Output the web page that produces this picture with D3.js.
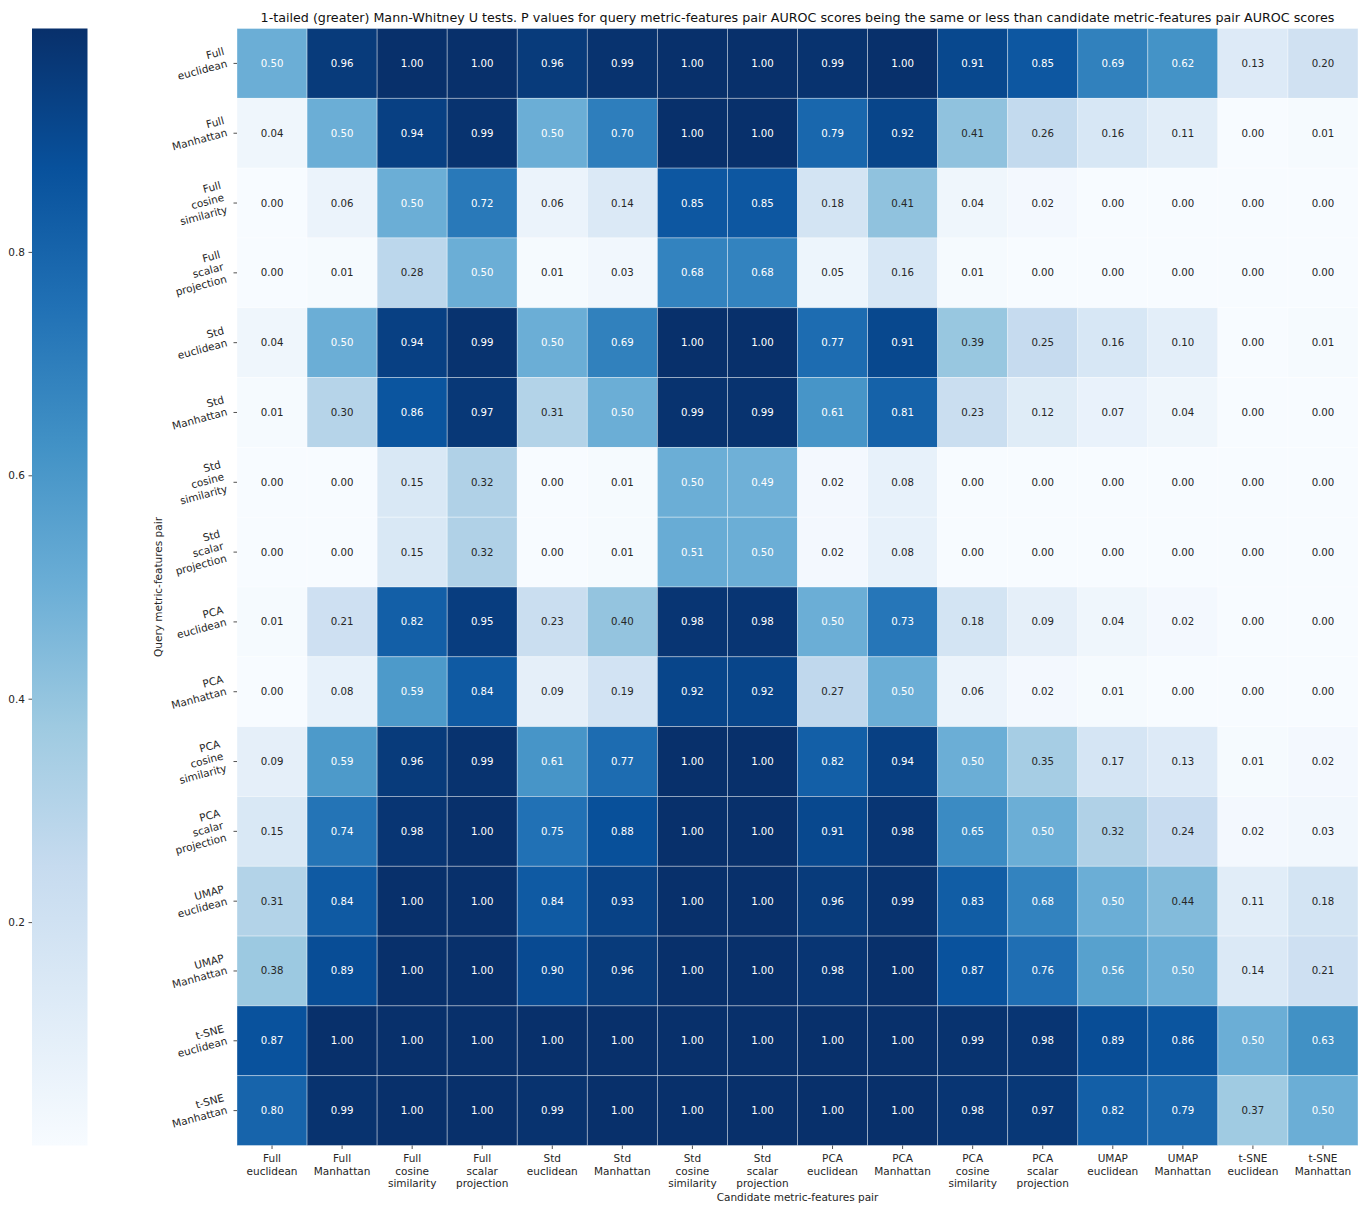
<!DOCTYPE html>
<html><head><meta charset="utf-8">
<script src="https://cdn.jsdelivr.net/npm/d3@7"></script>
<style>body{margin:0;background:#fff}svg{display:block;font-family:"DejaVu Sans",sans-serif}</style>
</head><body><svg id="chart" width="1370" height="1215"></svg>
<script>
const labels = ["Full\neuclidean","Full\nManhattan","Full\ncosine\nsimilarity","Full\nscalar\nprojection",
"Std\neuclidean","Std\nManhattan","Std\ncosine\nsimilarity","Std\nscalar\nprojection",
"PCA\neuclidean","PCA\nManhattan","PCA\ncosine\nsimilarity","PCA\nscalar\nprojection",
"UMAP\neuclidean","UMAP\nManhattan","t-SNE\neuclidean","t-SNE\nManhattan"];
const values = [
[0.50,0.96,1.00,1.00,0.96,0.99,1.00,1.00,0.99,1.00,0.91,0.85,0.69,0.62,0.13,0.20],
[0.04,0.50,0.94,0.99,0.50,0.70,1.00,1.00,0.79,0.92,0.41,0.26,0.16,0.11,0.00,0.01],
[0.00,0.06,0.50,0.72,0.06,0.14,0.85,0.85,0.18,0.41,0.04,0.02,0.00,0.00,0.00,0.00],
[0.00,0.01,0.28,0.50,0.01,0.03,0.68,0.68,0.05,0.16,0.01,0.00,0.00,0.00,0.00,0.00],
[0.04,0.50,0.94,0.99,0.50,0.69,1.00,1.00,0.77,0.91,0.39,0.25,0.16,0.10,0.00,0.01],
[0.01,0.30,0.86,0.97,0.31,0.50,0.99,0.99,0.61,0.81,0.23,0.12,0.07,0.04,0.00,0.00],
[0.00,0.00,0.15,0.32,0.00,0.01,0.50,0.49,0.02,0.08,0.00,0.00,0.00,0.00,0.00,0.00],
[0.00,0.00,0.15,0.32,0.00,0.01,0.51,0.50,0.02,0.08,0.00,0.00,0.00,0.00,0.00,0.00],
[0.01,0.21,0.82,0.95,0.23,0.40,0.98,0.98,0.50,0.73,0.18,0.09,0.04,0.02,0.00,0.00],
[0.00,0.08,0.59,0.84,0.09,0.19,0.92,0.92,0.27,0.50,0.06,0.02,0.01,0.00,0.00,0.00],
[0.09,0.59,0.96,0.99,0.61,0.77,1.00,1.00,0.82,0.94,0.50,0.35,0.17,0.13,0.01,0.02],
[0.15,0.74,0.98,1.00,0.75,0.88,1.00,1.00,0.91,0.98,0.65,0.50,0.32,0.24,0.02,0.03],
[0.31,0.84,1.00,1.00,0.84,0.93,1.00,1.00,0.96,0.99,0.83,0.68,0.50,0.44,0.11,0.18],
[0.38,0.89,1.00,1.00,0.90,0.96,1.00,1.00,0.98,1.00,0.87,0.76,0.56,0.50,0.14,0.21],
[0.87,1.00,1.00,1.00,1.00,1.00,1.00,1.00,1.00,1.00,0.99,0.98,0.89,0.86,0.50,0.63],
[0.80,0.99,1.00,1.00,0.99,1.00,1.00,1.00,1.00,1.00,0.98,0.97,0.82,0.79,0.37,0.50]];
const colorbarTicks = [0.2,0.4,0.6,0.8];
const blues = ["#f7fbff","#deebf7","#c6dbef","#9ecae1","#6baed6","#4292c6","#2171b5","#08519c","#08306b"];
const titleText = "1-tailed (greater) Mann-Whitney U tests. P values for query metric-features pair AUROC scores being the same or less than candidate metric-features pair AUROC scores";
const xTitle = "Candidate metric-features pair";
const yTitle = "Query metric-features pair";

const svg = d3.select("#chart");
const L = 237, R = 1358, T = 28.5, B = 1145.5;
const idx = d3.range(labels.length);
const x = d3.scaleBand().domain(idx).range([L, R]);
const y = d3.scaleBand().domain(idx).range([T, B]);
const color = d3.scaleLinear().domain(d3.range(9).map(i => i/8)).range(blues).interpolate(d3.interpolateRgb).clamp(true);

function lum(c){
  const r = d3.rgb(c);
  const f = v => { v/=255; return v <= 0.03928 ? v/12.92 : Math.pow((v+0.055)/1.055, 2.4); };
  return 0.2126*f(r.r)+0.7152*f(r.g)+0.0722*f(r.b);
}

const cells = [];
values.forEach((row,i)=>row.forEach((v,j)=>cells.push({i,j,v})));
const gC = svg.append("g");
gC.selectAll("rect").data(cells).join("rect")
  .attr("x", d=>x(d.j)).attr("y", d=>y(d.i))
  .attr("width", x.bandwidth()).attr("height", y.bandwidth())
  .attr("fill", d=>color(d.v))
  .attr("stroke", "rgba(255,255,255,0.45)").attr("stroke-width", 0.8);
gC.selectAll("text").data(cells).join("text")
  .attr("x", d=>x(d.j)+x.bandwidth()/2).attr("y", d=>y(d.i)+y.bandwidth()/2)
  .attr("text-anchor","middle").attr("dominant-baseline","central")
  .attr("font-size", 10.2)
  .attr("fill", d=> lum(color(d.v)) > 0.408 ? "#262626" : "#ffffff")
  .text(d=>d.v.toFixed(2));

// x ticks
const gx = svg.append("g");
idx.forEach(j=>{
  const cx = x(j)+x.bandwidth()/2;
  gx.append("line").attr("x1",cx).attr("x2",cx).attr("y1",B).attr("y2",B+3.5).attr("stroke","#262626").attr("stroke-width",0.8);
  const t = gx.append("text").attr("x",cx).attr("y",B+16.5).attr("text-anchor","middle").attr("font-size",10.5).attr("fill","#262626");
  labels[j].split("\n").forEach((s,k)=>t.append("tspan").attr("x",cx).attr("dy",k?12.6:0).text(s));
});
// y ticks
const gy = svg.append("g");
idx.forEach(i=>{
  const cy = y(i)+y.bandwidth()/2;
  gy.append("line").attr("x1",L-3.5).attr("x2",L).attr("y1",cy).attr("y2",cy).attr("stroke","#262626").attr("stroke-width",0.8);
  const outer = gy.append("g");
  const inner = outer.append("g").attr("transform","rotate(-15)");
  const lines = labels[i].split("\n");
  const t = inner.append("text").attr("text-anchor","end").attr("font-size",10.5).attr("fill","#262626");
  lines.forEach((s,k)=>t.append("tspan").attr("x",0).attr("dy",k?12.6:0).text(s));
  const bb = outer.node().getBBox();
  outer.attr("transform",`translate(${L-8.5-(bb.x+bb.width)},${cy-(bb.y+bb.height/2)})`);
});

// titles
svg.append("text").attr("x",(L+R)/2).attr("y",22).attr("text-anchor","middle").attr("font-size",12.7).attr("fill","#111").text(titleText);
svg.append("text").attr("x",(L+R)/2).attr("y",1201).attr("text-anchor","middle").attr("font-size",10.5).attr("fill","#262626").text(xTitle);
svg.append("text").attr("transform",`translate(162,${(T+B)/2}) rotate(-90)`).attr("text-anchor","middle").attr("font-size",10.5).attr("fill","#262626").text(yTitle);

// colorbar
const cbL = 32, cbR = 87.5;
const cbScale = d3.scaleLinear().domain([0,1]).range([B,T]);
const defs = svg.append("defs");
const grad = defs.append("linearGradient").attr("id","cbg").attr("x1",0).attr("y1",1).attr("x2",0).attr("y2",0);
d3.range(0,1.0001,0.125).forEach(v=>grad.append("stop").attr("offset",v).attr("stop-color",color(v)));
svg.append("rect").attr("x",cbL).attr("y",T).attr("width",cbR-cbL).attr("height",B-T).attr("fill","url(#cbg)");
const cbAxis = d3.axisLeft(cbScale).tickValues(colorbarTicks).tickFormat(d3.format(".1f")).tickSize(3.5).tickPadding(3.5);
const gcb = svg.append("g").attr("transform",`translate(${cbL},0)`).call(cbAxis);
gcb.select(".domain").remove();
gcb.selectAll("line").attr("stroke","#262626").attr("stroke-width",0.8);
gcb.selectAll("text").attr("font-size",10.5).attr("fill","#262626").attr("font-family","DejaVu Sans");
</script></body></html>
